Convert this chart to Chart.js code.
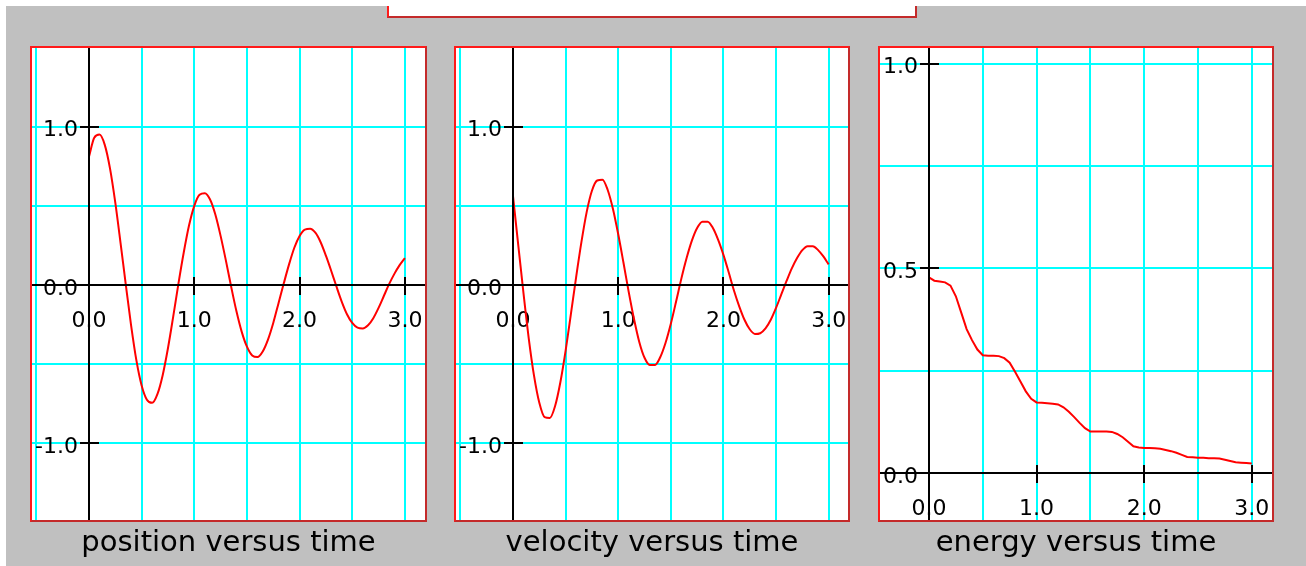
<!DOCTYPE html>
<html>
<head>
<meta charset="utf-8">
<script src="https://cdn.jsdelivr.net/npm/chart.js@4.4.1/dist/chart.umd.min.js"></script>
<style>
  html, body { margin: 0; padding: 0; }
  body { width: 1306px; height: 566px; overflow: hidden; position: relative; background: #c0c0c0; }
  .strip { position: absolute; background: #fff; z-index: 5; }
  .box { position: absolute; background: #fff; border: 2px solid; border-color: #ff1a1a #c42a2a #c42a2a #ff1a1a; }
  canvas { position: absolute; top: 48px; }
</style>
</head>
<body>
<div class="strip" style="left:0;top:0;width:1306px;height:6px"></div>
<div class="strip" style="left:0;top:0;width:6px;height:566px"></div>
<div class="box" style="left:387px;top:-10px;width:526px;height:24px"></div>

<div class="box" style="left:30px;top:46px;width:393px;height:472px"></div>
<div class="box" style="left:454px;top:46px;width:392px;height:472px"></div>
<div class="box" style="left:878px;top:46px;width:392px;height:472px"></div>

<canvas id="posChart" width="393" height="518" style="left:32px"></canvas>
<canvas id="velChart" width="392" height="518" style="left:456px"></canvas>
<canvas id="enChart" width="392" height="518" style="left:880px"></canvas>

<script>
// sample times (s)
const times = [0, 0.05, 0.1, 0.15, 0.2, 0.25, 0.3, 0.35, 0.4, 0.45,
  0.5, 0.55, 0.6, 0.65, 0.7, 0.75, 0.8, 0.85, 0.9, 0.95,
  1.0, 1.05, 1.1, 1.15, 1.2, 1.25, 1.3, 1.35, 1.4, 1.45,
  1.5, 1.55, 1.6, 1.65, 1.7, 1.75, 1.8, 1.85, 1.9, 1.95,
  2.0, 2.05, 2.1, 2.15, 2.2, 2.25, 2.3, 2.35, 2.4, 2.45,
  2.5, 2.55, 2.6, 2.65, 2.7, 2.75, 2.8, 2.85, 2.9, 2.95, 3.0];

const position = [0.81, 0.93, 0.95, 0.885, 0.735, 0.52, 0.265, 0.0, -0.255, -0.475,
  -0.635, -0.725, -0.745, -0.69, -0.57, -0.40, -0.20, 0.01, 0.205, 0.375,
  0.50, 0.57, 0.58, 0.54, 0.445, 0.31, 0.155, -0.01, -0.165, -0.295,
  -0.39, -0.445, -0.455, -0.42, -0.345, -0.24, -0.115, 0.01, 0.13, 0.235,
  0.31, 0.35, 0.355, 0.33, 0.27, 0.185, 0.09, -0.01, -0.105, -0.185,
  -0.24, -0.27, -0.275, -0.255, -0.21, -0.145, -0.07, 0.005, 0.07, 0.125, 0.17];

const velocity = [0.56, 0.25, -0.055, -0.34, -0.575, -0.745, -0.835, -0.84, -0.765, -0.615,
  -0.415, -0.185, 0.05, 0.27, 0.46, 0.595, 0.66, 0.665, 0.60, 0.48,
  0.32, 0.14, -0.045, -0.215, -0.36, -0.46, -0.505, -0.505, -0.455, -0.365,
  -0.245, -0.105, 0.04, 0.17, 0.28, 0.36, 0.40, 0.40, 0.36, 0.285,
  0.19, 0.08, -0.035, -0.135, -0.22, -0.28, -0.31, -0.305, -0.275, -0.22,
  -0.145, -0.06, 0.025, 0.105, 0.17, 0.22, 0.245, 0.245, 0.22, 0.18, 0.13];

const energy = [0.478, 0.470, 0.468, 0.466, 0.458, 0.432, 0.392, 0.352, 0.325, 0.302,
  0.288, 0.287, 0.287, 0.286, 0.281, 0.270, 0.248, 0.224, 0.200, 0.182,
  0.173, 0.172, 0.171, 0.170, 0.168, 0.161, 0.150, 0.137, 0.123, 0.110,
  0.102, 0.102, 0.102, 0.102, 0.101, 0.096, 0.088, 0.077, 0.066, 0.063,
  0.062, 0.062, 0.061, 0.060, 0.057, 0.054, 0.050, 0.045, 0.040, 0.039,
  0.038, 0.038, 0.037, 0.037, 0.036, 0.033, 0.030, 0.027, 0.026, 0.025, 0.024];

const titles = ['position versus time', 'velocity versus time', 'energy versus time'];

// labelled ticks
const xTicks = [0, 1, 2, 3];
const xTickLabels = ['0.0', '1.0', '2.0', '3.0'];
const motionYTicks = [-1, 0, 1];
const motionYTickLabels = ['-1.0', '0.0', '1.0'];
const energyYTicks = [0, 0.5, 1];
const energyYTickLabels = ['0.0', '0.5', '1.0'];

// grid lines (cyan)
const motionGridX = [-0.5, 0, 0.5, 1, 1.5, 2, 2.5, 3];
const motionGridY = [-1, -0.5, 0, 0.5, 1];
const energyGridX = [0, 0.5, 1, 1.5, 2, 2.5, 3];
const energyGridY = [0, 0.25, 0.5, 0.75, 1];

const CYAN = '#00ffff';
const RED = '#ff0000';
const FONT = '"DejaVu Sans", "Liberation Sans", sans-serif';

// black axes through the origin, tick marks and labels
const crossAxes = {
  id: 'crossAxes',
  beforeDatasetsDraw(chart, args, opts) {
    const { ctx, scales: { x, y } } = chart;
    const x0 = x.getPixelForValue(0), y0 = y.getPixelForValue(0);
    ctx.save();
    ctx.fillStyle = '#000';
    ctx.font = '22px ' + FONT;
    ctx.textBaseline = 'middle';
    ctx.textAlign = 'right';
    opts.yTicks.forEach((v, i) => {
      ctx.fillText(opts.yLabels[i], x0 - 11, y.getPixelForValue(v) + 4);
    });
    ctx.textAlign = 'center';
    xTicks.forEach((v, i) => {
      ctx.fillText(xTickLabels[i], x.getPixelForValue(v), y0 + 36);
    });
    ctx.restore();
  },
  afterDatasetsDraw(chart, args, opts) {
    const { ctx, chartArea: a, scales: { x, y } } = chart;
    const x0 = Math.round(x.getPixelForValue(0)), y0 = Math.round(y.getPixelForValue(0));
    ctx.save();
    ctx.strokeStyle = '#000';
    ctx.lineWidth = 2;
    ctx.beginPath();
    ctx.moveTo(a.left, y0); ctx.lineTo(a.right, y0);
    ctx.moveTo(x0, a.top); ctx.lineTo(x0, a.bottom);
    xTicks.filter(v => v !== 0).forEach(v => {
      const px = Math.round(x.getPixelForValue(v));
      ctx.moveTo(px, y0 - 8); ctx.lineTo(px, y0 + 10);
    });
    opts.yTicks.filter(v => v !== 0).forEach(v => {
      const py = Math.round(y.getPixelForValue(v));
      ctx.moveTo(x0 - 9, py); ctx.lineTo(x0 + 10, py);
    });
    ctx.stroke();
    ctx.restore();
  }
};

function makePanel(id, values, title, range, grid, yTicks, yLabels, smooth) {
  return new Chart(document.getElementById(id), {
    type: 'line',
    data: {
      datasets: [{
        data: times.map((t, i) => ({ x: t, y: values[i] })),
        borderColor: RED,
        borderWidth: 2,
        pointRadius: 0,
        cubicInterpolationMode: smooth ? 'monotone' : 'default',
        tension: 0,
        fill: false
      }]
    },
    options: {
      responsive: false,
      animation: false,
      events: [],
      layout: { padding: 0 },
      scales: {
        x: {
          type: 'linear',
          min: range.xMin, max: range.xMax,
          border: { display: false },
          grid: { color: CYAN, lineWidth: 2, drawTicks: false },
          ticks: { display: false },
          afterBuildTicks: s => { s.ticks = grid.x.map(v => ({ value: v })); }
        },
        y: {
          type: 'linear',
          min: range.yMin, max: range.yMax,
          border: { display: false },
          grid: { color: CYAN, lineWidth: 2, drawTicks: false },
          ticks: { display: false },
          afterBuildTicks: s => { s.ticks = grid.y.map(v => ({ value: v })); }
        }
      },
      plugins: {
        legend: { display: false },
        tooltip: { enabled: false },
        title: {
          display: true,
          position: 'bottom',
          text: title,
          color: '#000',
          font: { family: FONT, size: 29, weight: 'normal', lineHeight: 1.2 },
          padding: { top: 6, bottom: 5.2 }
        },
        crossAxes: { yTicks, yLabels }
      }
    },
    plugins: [crossAxes]
  });
}

makePanel('posChart', position, titles[0],
  { xMin: -0.541, xMax: 3.191, yMin: -1.485, yMax: 1.497 },
  { x: motionGridX, y: motionGridY }, motionYTicks, motionYTickLabels, true);
makePanel('velChart', velocity, titles[1],
  { xMin: -0.542, xMax: 3.184, yMin: -1.485, yMax: 1.497 },
  { x: motionGridX, y: motionGridY }, motionYTicks, motionYTickLabels, true);
makePanel('enChart', energy, titles[2],
  { xMin: -0.455, xMax: 3.188, yMin: -0.114, yMax: 1.038 },
  { x: energyGridX, y: energyGridY }, energyYTicks, energyYTickLabels, false);
</script>
</body>
</html>
